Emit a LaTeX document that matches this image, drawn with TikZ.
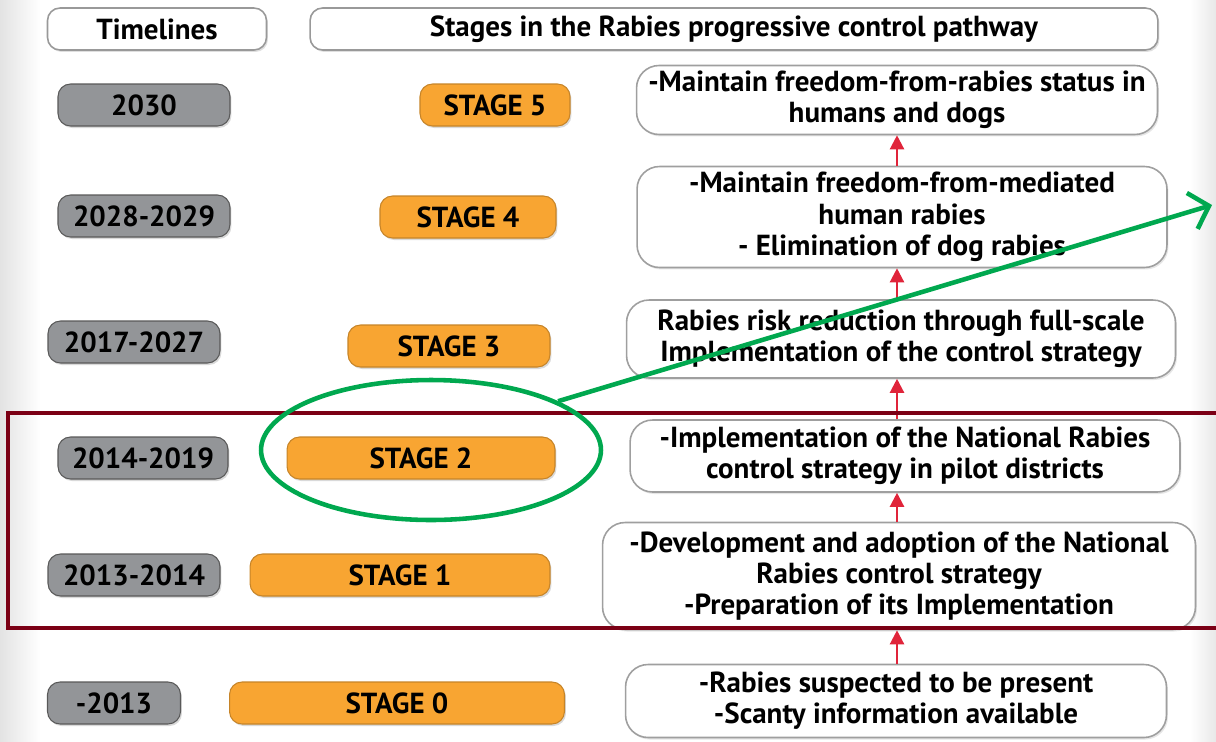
\documentclass[tikz,border=0pt]{standalone}
\usepackage{fontspec}
\setmainfont{PT Sans}
\usetikzlibrary{arrows.meta,shapes.geometric,shadows}

\definecolor{yeargray}{HTML}{939598}
\definecolor{stageorange}{HTML}{F8A532}
\definecolor{focusgreen}{HTML}{00A84F}
\definecolor{framered}{HTML}{7B0015}
\definecolor{steparrow}{HTML}{E0243A}

\tikzset{
  base/.style={rounded corners=0.25cm, minimum height=0.84cm, inner sep=0pt, align=center,
    font=\bfseries\fontsize{16.5}{17.8}\selectfont},
  headbox/.style={base, draw=gray!80, line width=0.9pt, fill=white,
    drop shadow={opacity=0.25, shadow xshift=0.03cm, shadow yshift=-0.04cm}},
  yearbox/.style={base, draw=gray!70!black, fill=yeargray, line width=0.6pt,
    drop shadow={opacity=0.3, shadow xshift=0.03cm, shadow yshift=-0.04cm}},
  stagebox/.style={base, draw=stageorange!80!black, fill=stageorange, line width=0.6pt,
    drop shadow={opacity=0.3, shadow xshift=0.03cm, shadow yshift=-0.04cm}},
  descbox/.style={base, rounded corners=0.45cm, draw=gray!75, fill=white, line width=0.9pt,
    drop shadow={opacity=0.2, shadow xshift=0.03cm, shadow yshift=-0.04cm}},
  up/.style={draw=steparrow, line width=1.3pt, -{Triangle[length=2.8mm,width=2.8mm]}},
}

\begin{document}
\begin{tikzpicture}[x=0.02cm,y=-0.02cm]
\useasboundingbox (0,0) rectangle (1216,741);
\fill[left color=gray!22, right color=white] (0,0) rectangle (40,741);
\fill[left color=white, right color=gray!18] (1190,0) rectangle (1216,741);

% headers
\node[headbox, minimum width=4.38cm] (tl) at (157,29) {Timelines};
\node[headbox, minimum width=16.96cm] (hd) at (734,29) {Stages in the Rabies progressive control pathway};

% timelines
\node[yearbox, minimum width=3.44cm] (y5) at (144,105) {2030};
\node[yearbox, minimum width=3.44cm] (y4) at (144,216) {2028-2029};
\node[yearbox, minimum width=3.44cm] (y3) at (134,342) {2017-2027};
\node[yearbox, minimum width=3.40cm] (y2) at (143,458) {2014-2019};
\node[yearbox, minimum width=3.44cm] (y1) at (134,575) {2013-2014};
\node[yearbox, minimum width=2.66cm] (y0) at (114,703) {-2013};

% stages
\node[stagebox, minimum width=3.00cm] (s5) at (495,105) {STAGE 5};
\node[stagebox, minimum width=3.52cm] (s4) at (468,217) {STAGE 4};
\node[stagebox, minimum width=4.04cm] (s3) at (449,346) {STAGE 3};
\node[stagebox, minimum width=5.36cm] (s2) at (421,458) {STAGE 2};
\node[stagebox, minimum width=6.00cm] (s1) at (400,575) {STAGE 1};
\node[stagebox, minimum width=6.70cm] (s0) at (397,703) {STAGE 0};

% descriptions
\node[descbox, minimum width=10.42cm, minimum height=1.38cm] (d5) at (897,100)
  {-Maintain freedom-from-rabies status in\\humans and dogs};
\node[descbox, minimum width=10.60cm, minimum height=2.02cm] (d4) at (902,217)
  {-Maintain freedom-from-mediated\\human rabies\\- Elimination of dog rabies};
\node[descbox, minimum width=10.98cm, minimum height=1.56cm] (d3) at (901,339)
  {Rabies risk reduction through full-scale\\Implementation of the control strategy};
\node[descbox, minimum width=11.00cm, minimum height=1.44cm] (d2) at (905,456)
  {-Implementation of the National Rabies\\control strategy in pilot districts};
\node[descbox, minimum width=11.86cm, minimum height=2.14cm] (d1) at (899,576)
  {-Development and adoption of the National\\Rabies control strategy\\-Preparation of its Implementation};
\node[descbox, minimum width=10.82cm, minimum height=1.46cm] (d0) at (896,701)
  {-Rabies suspected to be present\\-Scanty information available};

\coordinate (ax) at (897,0);
\foreach \lo/\hi in {d0/d1,d1/d2,d2/d3,d3/d4,d4/d5}
  \draw[up] (\lo.north -| ax) -- (\hi.south -| ax);

% highlight
\draw[framered, line width=2.3pt] (8,413) rectangle (1240,628);
\node[ellipse, draw=focusgreen, line width=2.6pt, minimum width=6.8cm, minimum height=2.8cm] (focus) at (431,450) {};
\coordinate (tip) at (1212,205);
\draw[focusgreen, line width=2.6pt, -{Straight Barb[length=3.5mm,width=7.5mm]}] (focus.21) -- (tip);
\end{tikzpicture}
\end{document}
